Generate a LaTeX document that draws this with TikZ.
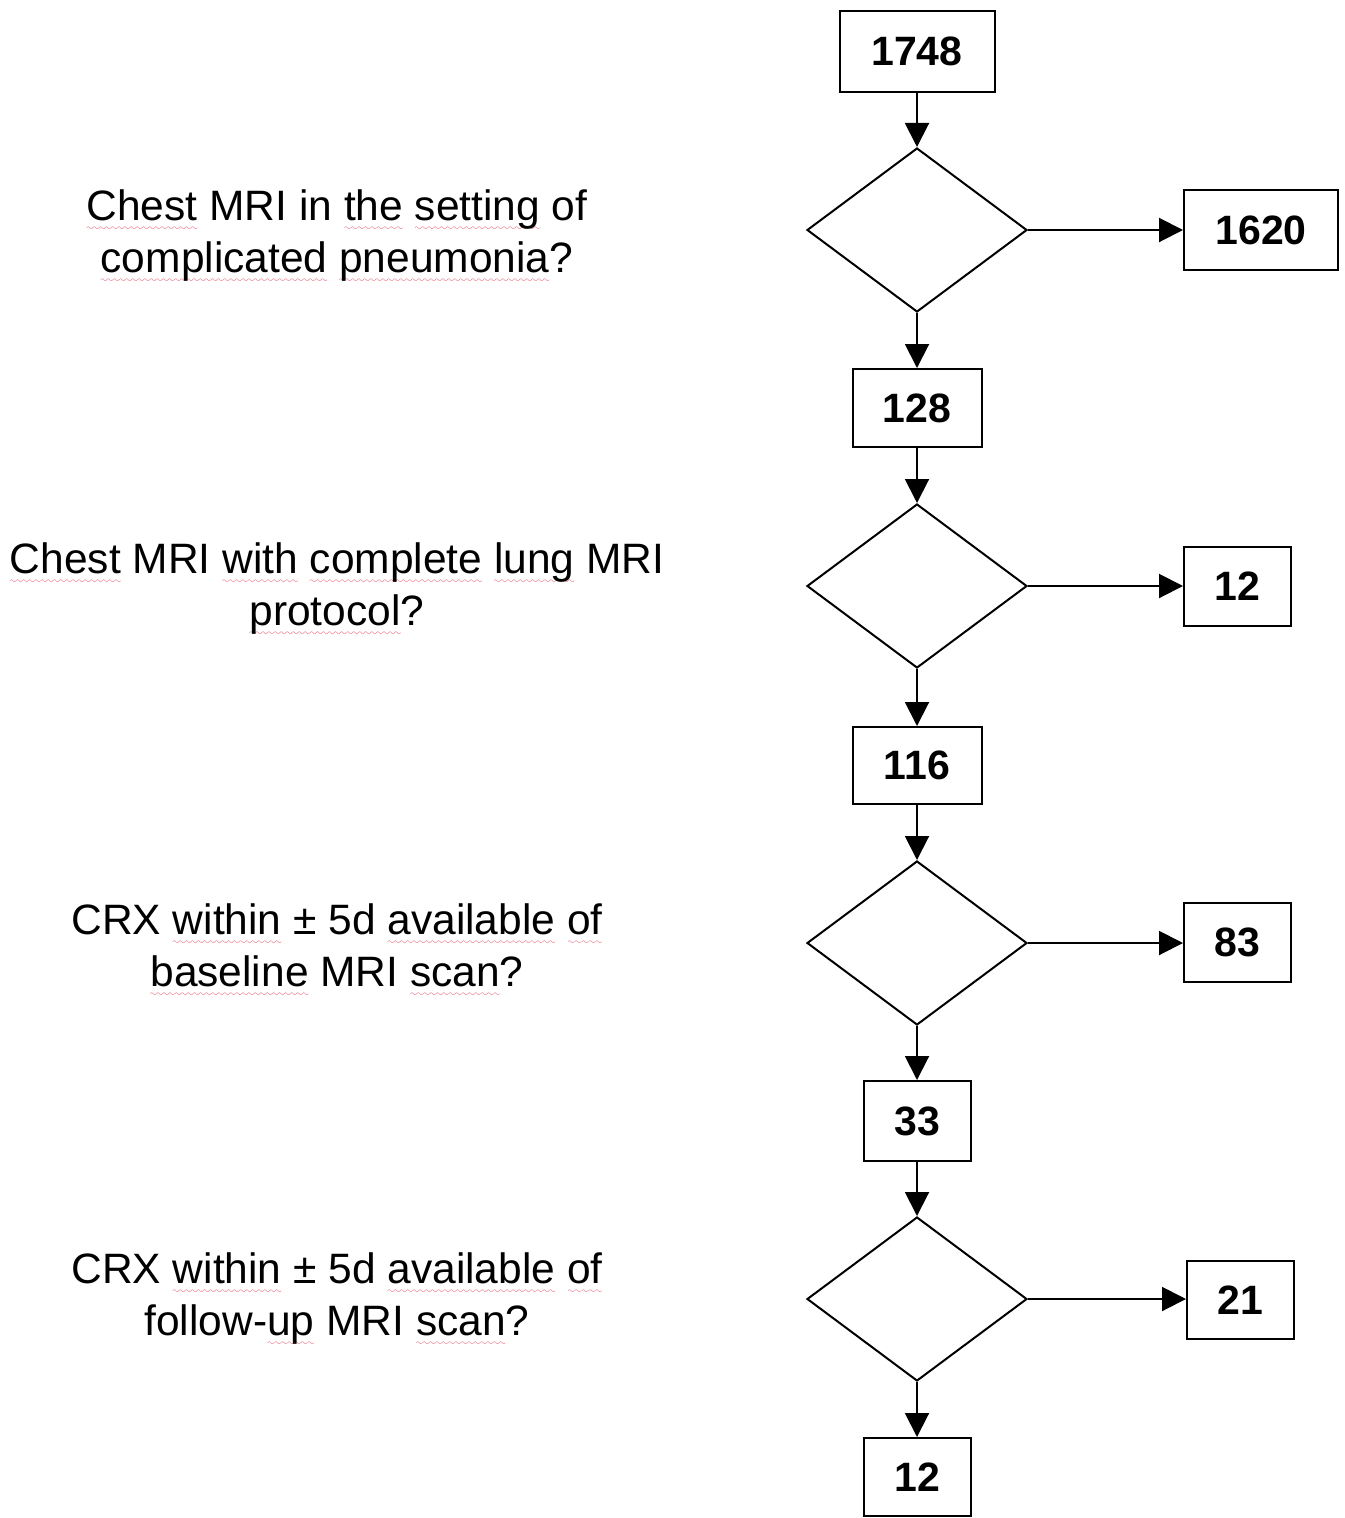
\documentclass[tikz,border=0pt]{standalone}
\usepackage{fontspec}
\setmainfont{Liberation Sans}
\usetikzlibrary{shapes.geometric,arrows.meta}
\definecolor{sqred}{RGB}{220,30,60}
\font\sqfont=lasy10 at 9pt
\newcommand\sqg[1]{\setbox0\hbox{#1}\leavevmode\rlap{\textcolor{sqred}{\lower10pt\hbox to\wd0{\xleaders\hbox{\sqfont\char58}\hfil}}}\box0\relax}
\begin{document}
\begin{tikzpicture}[x=1pt,y=-1pt,
  numbox/.style={draw, line width=2pt, inner sep=0pt, font=\fontsize{41}{48}\selectfont\bfseries},
  decision/.style={draw, diamond, line width=2pt, inner sep=0pt, minimum width=220pt, minimum height=164pt},
  question/.style={align=center, font=\fontsize{42.5}{52}\selectfont, inner sep=0pt},
  flow/.style={line width=2pt, -{Triangle[length=24pt,width=24pt]}}]
\useasboundingbox (0,0) rectangle (1344,1518);
% boxes
\node[numbox, minimum width=155pt, minimum height=81pt] (n1748) at (917,51.5) {1748};
\node[decision] (d1) at (917,230) {};
\node[numbox, minimum width=154pt, minimum height=80pt] (n1620) at (1261,230) {1620};
\node[numbox, minimum width=129pt, minimum height=78pt] (n128) at (917,408) {128};
\node[decision] (d2) at (917,586) {};
\node[numbox, minimum width=107pt, minimum height=79pt] (n12a) at (1237.5,586.5) {12};
\node[numbox, minimum width=129pt, minimum height=77pt] (n116) at (917,765.5) {116};
\node[decision] (d3) at (917,943) {};
\node[numbox, minimum width=107pt, minimum height=79pt] (n83) at (1237.5,942.5) {83};
\node[numbox, minimum width=107pt, minimum height=80pt] (n33) at (917,1121) {33};
\node[decision] (d4) at (917,1299) {};
\node[numbox, minimum width=107pt, minimum height=78pt] (n21) at (1240.5,1300) {21};
\node[numbox, minimum width=107pt, minimum height=78pt] (n12b) at (917,1477) {12};
% connectors
\draw[flow] (n1748) -- (d1);
\draw[flow] (d1) -- (n128);
\draw[flow] (n128) -- (d2);
\draw[flow] (d2) -- (n116);
\draw[flow] (n116) -- (d3);
\draw[flow] (d3) -- (n33);
\draw[flow] (n33) -- (d4);
\draw[flow] (d4) -- (n12b);
\draw[flow] (d1.east) -- (d1.east -| n1620.west);
\draw[flow] (d2.east) -- (d2.east -| n12a.west);
\draw[flow] (d3.east) -- (d3.east -| n83.west);
\draw[flow] (d4.east) -- (d4.east -| n21.west);
% questions
\node[question] (q1) at (337,236) {\sqg{Chest} MRI in \sqg{the} \sqg{setting} of\\\sqg{complicated} \sqg{pneumonia}?};
\node[question] (q2) at (337,589) {\sqg{Chest} MRI \sqg{with} \sqg{complete} \sqg{lung} MRI\\\sqg{protocol}?};
\node[question] (q3) at (337,950) {CRX \sqg{within} ± 5d \sqg{available} \sqg{of}\\\sqg{baseline} MRI \sqg{scan}?};
\node[question] (q4) at (337,1299) {CRX \sqg{within} ± 5d \sqg{available} \sqg{of}\\follow-\sqg{up} MRI \sqg{scan}?};
\end{tikzpicture}
\end{document}
